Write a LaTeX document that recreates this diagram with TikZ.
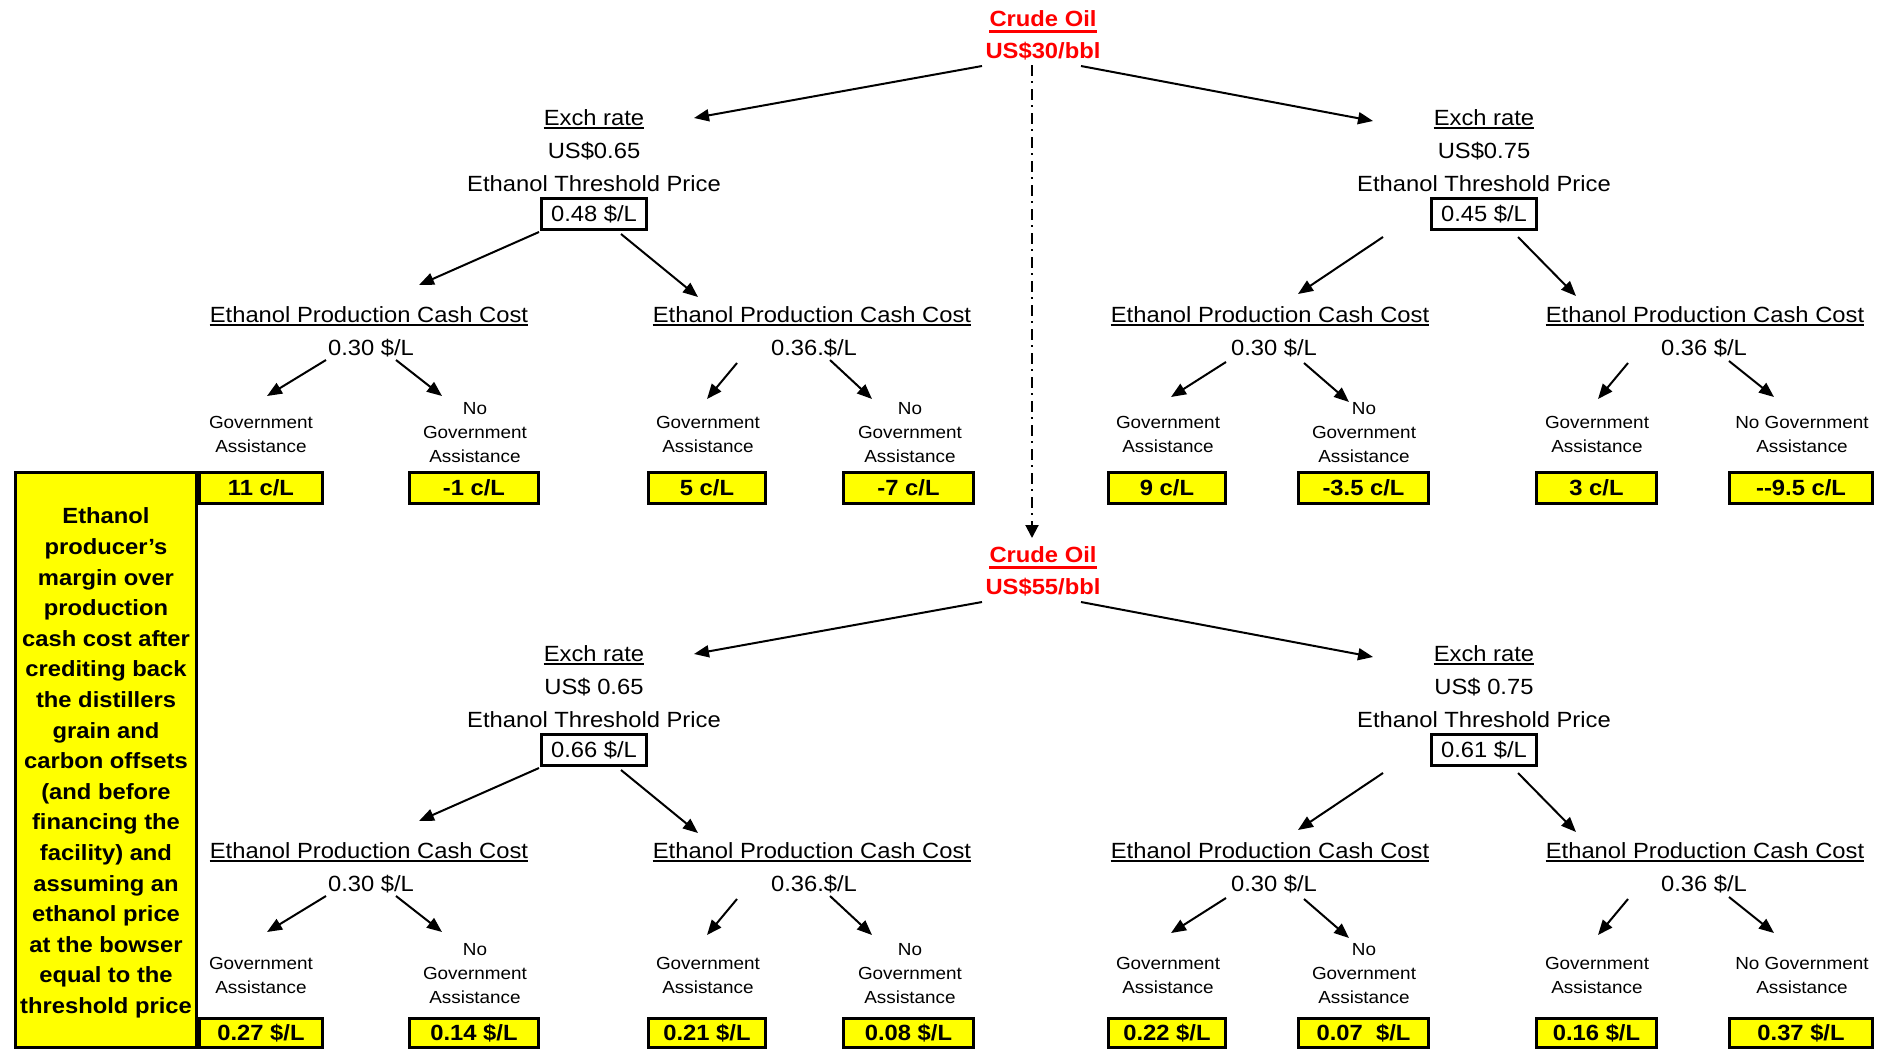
\documentclass[tikz,border=0pt]{standalone}
\usepackage{fontspec}
\setmainfont[FakeStretch=1.08]{Liberation Sans}
\usetikzlibrary{arrows.meta}
\definecolor{ylw}{HTML}{FFFF00}
\definecolor{rd}{HTML}{FF0000}
\def\mlines#1{\vtop{\halign{\hfil##\hfil\cr#1\crcr}}}
\tikzset{
 txt/.style={font=\fontsize{22}{26}\selectfont, inner sep=0pt, anchor=base},
 sml/.style={font=\fontsize{17.5}{24}\selectfont, inner sep=0pt, anchor=base},
 redtxt/.style={font=\bfseries\fontsize{22}{26}\selectfont, text=rd, inner sep=0pt, anchor=base},
 thr/.style={draw, line width=3pt, font=\fontsize{22}{26}\selectfont, inner sep=0pt, minimum width=105pt, minimum height=31pt, text height=15.75pt, text depth=0pt},
 ybox/.style={draw, fill=ylw, line width=3pt, font=\bfseries\fontsize{22}{26}\selectfont, inner sep=0pt, text height=15.75pt, text depth=0pt},
 arr/.style={line width=2pt, -{Triangle[length=15pt,width=12pt]}},
 uline/.style={line width=2pt},
}
\def\cpA{0.30 \$/L}
\def\cpB{0.36.\$/L}
\def\cpC{0.36 \$/L}
\newcommand\drawhalf[5]{%
  \node[redtxt] (crude#1) at (1043,26.7+#2) {Crude Oil};
  \draw[rd, line width=2.7pt] ([yshift=-5pt]crude#1.base west) -- ([yshift=-5pt]crude#1.base east);
  \node[redtxt] (price#1) at (1043,58+#2) {\crudeprice};
  \foreach \s/\cx/\uv/\tv in {L/594/\usL/\thL, R/1484/\usR/\thR}{%
    \node[txt] (ex\s#1) at (\cx,125+#2) {Exch rate};
    \draw[uline] ([yshift=-3pt]ex\s#1.base west) -- ([yshift=-3pt]ex\s#1.base east);
    \node[txt] (us\s#1) at (\cx,158+#2) {\uv};
    \node[txt] (etp\s#1) at (\cx,191+#2) {Ethanol Threshold Price};
    \node[thr] (thr\s#1) at (\cx,214+#2) {\tv};
  }
  \foreach \k/\cx/\vx/\cv in {1/369/371/\cpA, 2/812/814/\cpB, 3/1270/1274/\cpA, 4/1705/1704/\cpC}{%
    \node[txt] (epcc\k#1) at (\cx,322+#2) {Ethanol Production Cash Cost};
    \draw[uline] ([yshift=-2.5pt]epcc\k#1.base west) -- ([yshift=-2.5pt]epcc\k#1.base east);
    \node[txt] (cost\k#1) at (\vx,355+#2) {\cv};
  }
  \foreach \k/\cx in {1/261, 3/708, 5/1168, 7/1597}{%
    \node[sml] (ga\k#1) at (\cx,428+#3) {\mlines{Government\cr Assistance}};
  }
  \foreach \k/\cx in {2/475, 4/910, 6/1364}{%
    \node[sml] (ga\k#1) at (\cx,414+#3) {\mlines{No\cr Government\cr Assistance}};
  }
  \node[sml] (ga8#1) at (1802,428+#3) {\mlines{No Government\cr Assistance}};
  \foreach \bx/\bw/\bv [count=\i] in \boxvals {%
    \node[ybox, minimum width=\bw*1pt, minimum height=#5] (val\i#1) at (\bx,#4) {\bv/L};
  }
  \foreach \n/\xa/\ya/\xb/\yb in {cl/982/66/694/118, cr/1081/66/1373/121,
      tll/539/232/419/285, tlr/621/234/698/297, trl/1383/237/1298/294, trr/1518/237/1576/296,
      aa/326/360/267/396, ab/396/360/442/396, ac/737/363/707/399, ad/830/360/872/399,
      ae/1226/362/1171/397, af/1304/363/1349/402, ag/1628/363/1598/399, ah/1729/361/1774/397}{%
    \coordinate (\n s#1) at (\xa,\ya+#2);
    \coordinate (\n e#1) at (\xb,\yb+#2);
    \draw[arr] (\n s#1) -- (\n e#1);
  }
}
\begin{document}
\begin{tikzpicture}[x=1pt,y=-1pt]
\useasboundingbox (0,0) rectangle (1887,1050);
\fill[white] (0,0) rectangle (1887,1050);
\node[draw, fill=ylw, line width=3pt, inner sep=0pt, minimum width=181pt, minimum height=575pt,
  font=\bfseries\fontsize{22}{30.6}\selectfont] (legend) at (106,760)
  {\mlines{\vrule height 22pt width 0pt Ethanol\cr producer’s\cr margin over\cr production\cr cash cost after\cr crediting back\cr the distillers\cr grain and\cr carbon offsets\cr (and before\cr financing the\cr facility) and\cr assuming an\cr ethanol price\cr at the bowser\cr equal to the\cr threshold price}};
\def\crudeprice{US\$30/bbl}
\def\usL{US\$0.65}\def\usR{US\$0.75}
\def\thL{0.48 \$/L}\def\thR{0.45 \$/L}
\def\boxvals{261/123/{11 c}, 474/129/{-1 c}, 707/117/{5 c}, 908.5/130/{-7 c}, 1167/117/{9 c}, 1363.5/130/{-3.5 c}, 1596.5/120/{3 c}, 1801/143/{-\kern0pt-9.5 c}}
\drawhalf{t}{0}{0}{488}{31pt}
\def\crudeprice{US\$55/bbl}
\def\usL{US\$ 0.65}\def\usR{US\$ 0.75}
\def\thL{0.66 \$/L}\def\thR{0.61 \$/L}
\def\boxvals{261/123/{0.27 \$}, 474/129/{0.14 \$}, 707/117/{0.21 \$}, 908.5/130/{0.08 \$}, 1167/117/{0.22 \$}, 1363.5/130/{0.07\ \ \$}, 1596.5/120/{0.16 \$}, 1801/143/{0.37 \$}}
\drawhalf{b}{536}{541}{1033}{29pt}
\coordinate (dds) at (1032,65);
\coordinate (dde) at (1032,538);
\draw[line width=2pt, dash pattern=on 11pt off 5pt on 2pt off 6pt, -{Triangle[length=13pt,width=13pt]}] (dds) -- (dde);
\end{tikzpicture}
\end{document}
